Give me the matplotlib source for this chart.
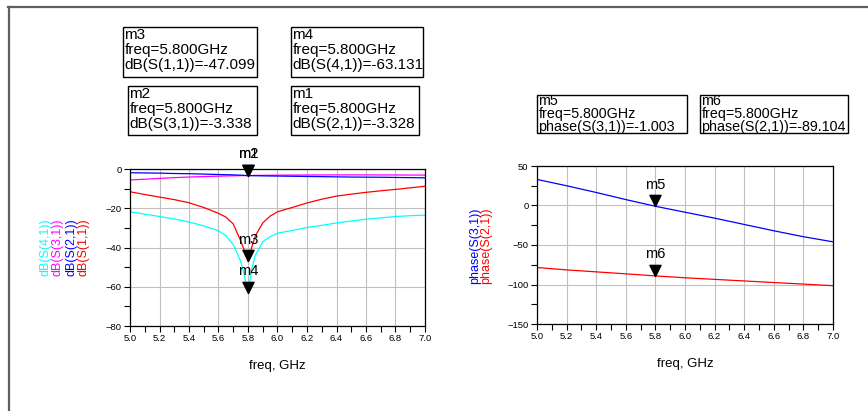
import numpy as np
import matplotlib
matplotlib.use("Agg")
import matplotlib.pyplot as plt
from matplotlib.patches import Rectangle
from matplotlib.lines import Line2D
from matplotlib.path import Path
from matplotlib.transforms import Bbox
from matplotlib.ticker import MultipleLocator

plt.rcParams['font.family'] = ['Liberation Sans', 'DejaVu Sans']

# ---- data ----
freq_db = [5.0, 5.1, 5.2, 5.3, 5.4, 5.5, 5.6, 5.65, 5.7, 5.75, 5.775, 5.8, 5.825,
           5.85, 5.9, 5.95, 6.0, 6.1, 6.2, 6.3, 6.4, 6.5, 6.6, 6.7, 6.8, 6.9, 7.0]
db_s11 = [-11.6, -13.0, -14.3, -15.6, -17.2, -19.6, -22.6, -24.5, -28.0, -36.5, -41.5, -47.1, -40.0,
          -34.0, -27.5, -24.0, -21.8, -19.6, -17.3, -15.4, -13.8, -12.8, -11.9, -11.1, -10.4, -9.6, -8.8]
db_s21 = [-1.9, -2.0, -2.1, -2.3, -2.4, -2.6, -2.8, -2.9, -3.0, -3.15, -3.25, -3.33, -3.38,
          -3.42, -3.5, -3.55, -3.6, -3.7, -3.8, -3.9, -4.0, -4.1, -4.15, -4.2, -4.3, -4.4, -4.5]
db_s31 = [-5.6, -5.2, -4.8, -4.4, -4.1, -3.85, -3.65, -3.55, -3.47, -3.4, -3.37, -3.34, -3.31,
          -3.28, -3.23, -3.19, -3.15, -3.1, -3.05, -3.02, -3.0, -3.0, -3.0, -3.02, -3.05, -3.08, -3.1]
db_s41 = [-21.8, -23.0, -24.2, -25.5, -27.0, -29.0, -31.5, -34.0, -38.5, -47.0, -54.0, -63.1, -51.0,
          -44.0, -37.0, -34.5, -32.7, -31.3, -29.8, -28.7, -27.5, -26.5, -25.6, -24.9, -24.2, -23.8, -23.5]

freq_ph = [5.0, 5.2, 5.4, 5.6, 5.8, 6.0, 6.2, 6.4, 6.6, 6.8, 7.0]
ph_s31 = [33.0, 25.0, 16.5, 7.5, -1.0, -8.5, -16.0, -24.0, -32.0, -39.5, -46.0]
ph_s21 = [-78.5, -81.5, -84.0, -86.5, -89.1, -91.5, -93.5, -95.5, -97.5, -99.5, -101.5]

# marker readouts
marker_freq = 5.8
m1_val, m2_val, m3_val, m4_val = -3.328, -3.338, -47.099, -63.131
m5_val, m6_val = -1.003, -89.104

W, H = 868, 411
fig = plt.figure(figsize=(W / 100, H / 100), dpi=100)


def fx(x):
    return x / W


def fy(y):
    return 1 - y / H


def axes_px(x0, x1, y0, y1):
    return [fx(x0), fy(y1), fx(x1) - fx(x0), fy(y0) - fy(y1)]


def style_axes(ax, major_y, minor_y):
    ax.set_xlim(5.0, 7.0)
    ax.xaxis.set_major_locator(MultipleLocator(0.2))
    ax.xaxis.set_minor_locator(MultipleLocator(0.1))
    ax.yaxis.set_major_locator(MultipleLocator(major_y))
    ax.yaxis.set_minor_locator(MultipleLocator(minor_y))
    ax.xaxis.set_major_formatter(plt.FormatStrFormatter('%.1f'))
    ax.tick_params(which='both', direction='out', length=4, width=0.8,
                   labelsize=6.8, pad=2, top=False, right=False)
    ax.grid(True, which='major', color='#c0c0c0', lw=0.8)
    ax.set_axisbelow(True)
    for s in ax.spines.values():
        s.set_linewidth(0.9)
    ax.set_xlabel('freq, GHz', fontsize=9.5, labelpad=12)


# downward triangle with its tip on the data point
tri = Path([(-0.5, 1.0), (0.5, 1.0), (0.0, 0.0), (-0.5, 1.0)],
           [Path.MOVETO, Path.LINETO, Path.LINETO, Path.CLOSEPOLY])


def add_marker(ax, name, y):
    ax.plot([marker_freq], [y], marker=tri, ms=16, color='black', clip_on=False, zorder=5)
    ax.annotate(name, xy=(marker_freq, y), xytext=(0, 10.5), textcoords='offset points',
                ha='center', va='bottom', fontsize=10.5, annotation_clip=False, zorder=6)


# ---- left plot: dB ----
ax1 = fig.add_axes(axes_px(130, 425, 169, 326))
ax1.plot(freq_db, db_s41, color='#00ffff', lw=0.9)
ax1.plot(freq_db, db_s31, color='#ff00ff', lw=0.9)
ax1.plot(freq_db, db_s21, color='#0000ff', lw=0.9)
ax1.plot(freq_db, db_s11, color='#ff0000', lw=0.9)
ax1.set_ylim(-80, 0)
style_axes(ax1, 20, 10)
add_marker(ax1, 'm2', m2_val)
add_marker(ax1, 'm1', m1_val)
add_marker(ax1, 'm3', m3_val)
add_marker(ax1, 'm4', m4_val)

for label, col, x in [('dB(S(4,1))', '#00ffff', 45), ('dB(S(3,1))', '#ff00ff', 58),
                      ('dB(S(2,1))', '#0000ff', 71), ('dB(S(1,1))', '#ff0000', 84)]:
    fig.text(fx(x), fy(247), label, color=col, rotation=90, ha='center', va='center', fontsize=9)

# ---- right plot: phase ----
ax2 = fig.add_axes(axes_px(537, 833, 166, 324))
ax2.plot(freq_ph, ph_s31, color='#0000ff', lw=0.9)
ax2.plot(freq_ph, ph_s21, color='#ff0000', lw=0.9)
ax2.set_ylim(-150, 50)
style_axes(ax2, 50, 25)
add_marker(ax2, 'm5', m5_val)
add_marker(ax2, 'm6', m6_val)

for label, col, x in [('phase(S(3,1))', '#0000ff', 475), ('phase(S(2,1))', '#ff0000', 486)]:
    fig.text(fx(x), fy(246), label, color=col, rotation=90, ha='center', va='center', fontsize=9)


# ---- marker readout boxes ----
def readout(x0, x1, y0, y1, lines, line_ys, size, spill):
    fig.patches.append(Rectangle((fx(x0), fy(y1)), fx(x1) - fx(x0), fy(y0) - fy(y1),
                                 transform=fig.transFigure, fill=False,
                                 edgecolor='black', lw=1.0))
    # only the right edge cuts the text, as in the reference
    clip = Bbox.from_extents(x0 - 5, H - y1 - 6, x1 + spill, H - y0 + 6)
    for txt, ly in zip(lines, line_ys):
        t = fig.text(fx(x0 + 1.5), fy(ly), txt, ha='left', va='center', fontsize=size)
        t.set_clip_box(clip)


readout(123, 257, 27, 77, ['m3', 'freq=5.800GHz', 'dB(S(1,1))=%.3f' % m3_val], [35, 50, 65], 11, 3)
readout(291, 423, 27, 77, ['m4', 'freq=5.800GHz', 'dB(S(4,1))=%.3f' % m4_val], [35, 50, 65], 11, 3)
readout(128, 257, 86, 135, ['m2', 'freq=5.800GHz', 'dB(S(3,1))=%.3f' % m2_val], [94, 109, 124], 11, 3)
readout(291, 419, 86, 135, ['m1', 'freq=5.800GHz', 'dB(S(2,1))=%.3f' % m1_val], [94, 109, 124], 11, 3)
readout(537, 687, 95, 133, ['m5', 'freq=5.800GHz', 'phase(S(3,1))=%.3f' % m5_val], [101, 114, 127.5], 10.3, 1)
readout(700, 848, 95, 133, ['m6', 'freq=5.800GHz', 'phase(S(2,1))=%.3f' % m6_val], [101, 114, 127.5], 10.3, 1)

# outer frame (top and left edges)
fig.lines.append(Line2D([fx(8), fx(W)], [fy(7.5), fy(7.5)], transform=fig.transFigure,
                        color='#606060', lw=1.6))
fig.lines.append(Line2D([fx(8.5), fx(8.5)], [fy(7), fy(H)], transform=fig.transFigure,
                        color='#606060', lw=1.6))

fig.savefig('out.png', dpi=100)
